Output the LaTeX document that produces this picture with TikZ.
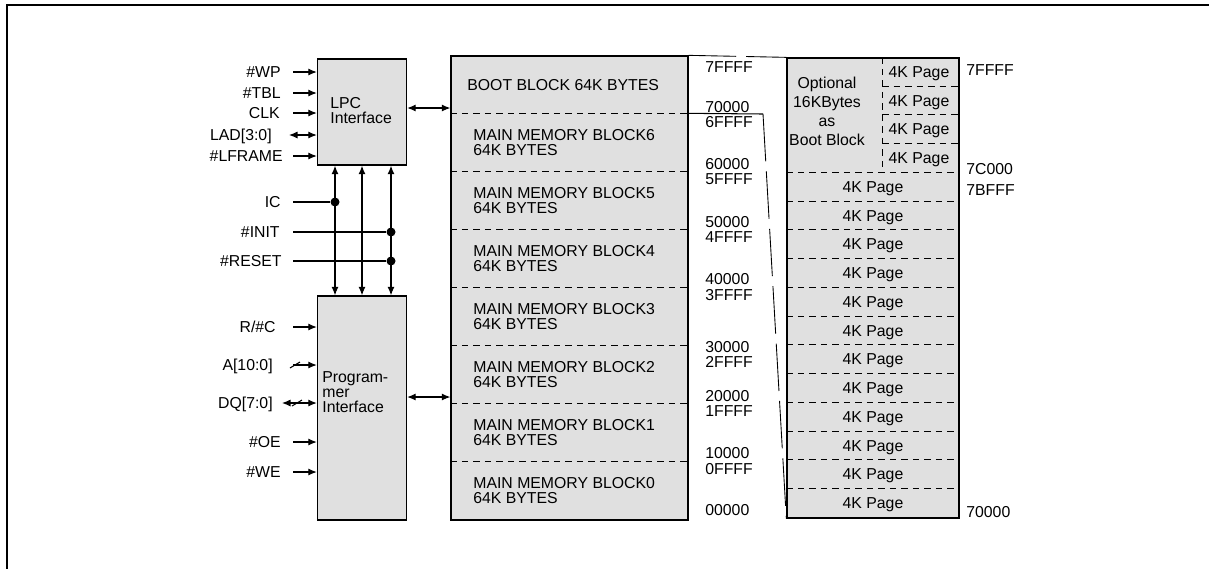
\documentclass[tikz,border=0pt]{standalone}
\usepackage{fontspec}
\setmainfont{Liberation Sans}
\usepackage{tikz}
\usetikzlibrary{arrows.meta,calc}
\definecolor{boxgray}{RGB}{224,224,224}
\tikzset{
  blk/.style={draw=black, fill=boxgray, line width=0.8pt, inner sep=0pt},
  txt/.style={font=\fontsize{9pt}{8.6pt}\selectfont, inner sep=0pt, align=left},
  sig/.style={font=\fontsize{9pt}{9pt}\selectfont, inner sep=0pt, text height=6.4pt, text depth=0pt},
  arrow/.style={-{Latex[length=1.7mm,width=1.4mm]}, line width=0.6pt},
  biarrow/.style={{Latex[length=1.7mm,width=1.4mm]}-{Latex[length=1.7mm,width=1.4mm]}, line width=0.6pt},
  wire/.style={line width=0.6pt},
  dot/.style={circle, fill=black, minimum size=1.8mm, inner sep=0pt},
  memsep/.style={dash pattern=on 0.13cm off 0.1cm, line width=0.5pt},
  linkline/.style={dash pattern=on 0.95cm off 0.2cm, line width=0.5pt}
}
\begin{document}
\begin{tikzpicture}[x=0.02cm, y=-0.02cm]
\useasboundingbox (0,0) rectangle (1209,569);
\draw[line width=1.1pt] (1209,5) -- (7,5) -- (7,569);
% ---- interface blocks ----
\node[blk, minimum width=1.78cm, minimum height=2.12cm] (lpc) at (362,112) {};
\node[txt, anchor=west] (lpctxt) at (330,110.5) {LPC\\Interface};
\node[blk, minimum width=1.78cm, minimum height=4.48cm] (prog) at (362,408) {};
\node[txt, anchor=west] (progtxt) at (322,392.5) {Program-\\mer\\Interface};
\coordinate (lin) at (293,0);
\coordinate (ladin) at (289,0);
\coordinate (dqin) at (282,0);
\coordinate (v1) at (335,0);
\coordinate (v2) at (362,0);
\coordinate (v3) at (391,0);
% ---- LPC signals ----
\node[sig, anchor=east] (wp) at (281,72) {\#WP};
\node[sig, anchor=east] (tbl) at (281,93) {\#TBL};
\node[sig, anchor=east] (clk) at (280,113) {CLK};
\node[sig, anchor=east] (lad) at (272,135) {LAD[3:0]};
\node[sig, anchor=east] (lframe) at (283,156) {\#LFRAME};
\draw[arrow] (wp -| lin) -- (wp -| lpc.west);
\draw[arrow] (tbl -| lin) -- (tbl -| lpc.west);
\draw[arrow] (clk -| lin) -- (clk -| lpc.west);
\draw[biarrow] (lad -| ladin) -- (lad -| lpc.west);
\draw[arrow] (lframe -| lin) -- (lframe -| lpc.west);
% ---- shared lines ----
\draw[biarrow] (v1 |- lpc.south) -- (v1 |- prog.north);
\draw[biarrow] (v2 |- lpc.south) -- (v2 |- prog.north);
\draw[biarrow] (v3 |- lpc.south) -- (v3 |- prog.north);
\node[sig, anchor=east] (ic) at (281,202) {IC};
\node[sig, anchor=east] (init) at (280,232) {\#INIT};
\node[sig, anchor=east] (reset) at (282,261) {\#RESET};
\node[dot] (icdot) at (v1 |- ic) {};
\node[dot] (initdot) at (v3 |- init) {};
\node[dot] (resetdot) at (v3 |- reset) {};
\draw[wire] (ic -| lin) -- (icdot);
\draw[wire] (init -| lin) -- (initdot);
\draw[wire] (reset -| lin) -- (resetdot);
% ---- programmer signals ----
\node[sig, anchor=east] (rc) at (276,327) {R/\#C};
\node[sig, anchor=east] (addr) at (273,365) {A[10:0]};
\node[sig, anchor=east] (dq) at (273,403) {DQ[7:0]};
\node[sig, anchor=east] (oe) at (281,442) {\#OE};
\node[sig, anchor=east] (we) at (281,472) {\#WE};
\draw[arrow] (rc -| lin) -- (rc -| prog.west);
\draw[arrow] (addr -| lin) -- (addr -| prog.west);
\draw[wire] ([xshift=0.04cm]addr -| lin) ++(-5,3) -- ++(10,-6);
\draw[biarrow] (dq -| dqin) -- (dq -| prog.west);
\draw[wire] ([xshift=0.08cm]dq -| lin) ++(-5,3) -- ++(10,-6);
\draw[arrow] (oe -| lin) -- (oe -| prog.west);
\draw[arrow] (we -| lin) -- (we -| prog.west);
% ---- memory array ----
\node[blk, minimum width=4.74cm, minimum height=9.28cm] (mem) at (569.5,288) {};
\foreach \k in {1,...,7}
  \draw[memsep] ([yshift=-\k*1.16cm]mem.north west) -- ([yshift=-\k*1.16cm]mem.north east);
\node[sig, anchor=west] (boot) at (467,85) {BOOT BLOCK 64K BYTES};
\node[txt, anchor=west] (blk6) at (473,142.5) {MAIN MEMORY BLOCK6\\64K BYTES};
\node[txt, anchor=west] (blk5) at (473,200.5) {MAIN MEMORY BLOCK5\\64K BYTES};
\node[txt, anchor=west] (blk4) at (473,258.5) {MAIN MEMORY BLOCK4\\64K BYTES};
\node[txt, anchor=west] (blk3) at (473,316.5) {MAIN MEMORY BLOCK3\\64K BYTES};
\node[txt, anchor=west] (blk2) at (473,374.5) {MAIN MEMORY BLOCK2\\64K BYTES};
\node[txt, anchor=west] (blk1) at (473,432.5) {MAIN MEMORY BLOCK1\\64K BYTES};
\node[txt, anchor=west] (blk0) at (473,490.5) {MAIN MEMORY BLOCK0\\64K BYTES};
\draw[biarrow] ([yshift=0.08cm]lpc.east) -- ([yshift=0.08cm]lpc.east -| mem.west);
\draw[biarrow] ([yshift=0.22cm]prog.east) -- ([yshift=0.22cm]prog.east -| mem.west);
% addresses
\node[sig, anchor=west] (a7f) at (705,67) {7FFFF};
\node[sig, anchor=west] (a70) at (705,107) {70000};
\node[sig, anchor=west] (a6f) at (705,122) {6FFFF};
\node[sig, anchor=west] (a60) at (705,164) {60000};
\node[sig, anchor=west] (a5f) at (705,179) {5FFFF};
\node[sig, anchor=west] (a50) at (705,222) {50000};
\node[sig, anchor=west] (a4f) at (705,237) {4FFFF};
\node[sig, anchor=west] (a40) at (705,279) {40000};
\node[sig, anchor=west] (a3f) at (705,295) {3FFFF};
\node[sig, anchor=west] (a30) at (705,347) {30000};
\node[sig, anchor=west] (a2f) at (705,362) {2FFFF};
\node[sig, anchor=west] (a20) at (705,396) {20000};
\node[sig, anchor=west] (a1f) at (705,411) {1FFFF};
\node[sig, anchor=west] (a10) at (705,453) {10000};
\node[sig, anchor=west] (a0f) at (705,469) {0FFFF};
\node[sig, anchor=west] (a00) at (705,510) {00000};
% ---- boot block pages ----
\node[blk, minimum width=3.44cm, minimum height=9.2cm] (pages) at (873,288) {};
\coordinate (split) at (882,0);
\coordinate (pgx) at (919,0);
\coordinate (bend) at (763,114);
\foreach \k in {1,2,3}
  \draw[memsep] ([yshift=-\k*0.575cm]pages.north -| split) -- ([yshift=-\k*0.575cm]pages.north east);
\foreach \k in {4,...,15}
  \draw[memsep] ([yshift=-\k*0.575cm]pages.north west) -- ([yshift=-\k*0.575cm]pages.north east);
\draw[memsep] (pages.north -| split) -- ([yshift=-4*0.575cm]pages.north -| split);
\foreach \k in {0,...,3}
  \node[sig] (pg\k) at ([yshift=-(\k+0.5)*0.575cm]pages.north -| pgx) {4K Page};
\foreach \k in {4,...,15}
  \node[sig] (pg\k) at ([yshift=-(\k+0.5)*0.575cm]pages.north) {4K Page};
\node[font=\fontsize{9pt}{10.8pt}\selectfont, align=center, inner sep=0pt] (opt) at (827,111.5) {Optional\\16KBytes\\as\\Boot Block};
\node[sig, anchor=west] (b7f) at (966,70) {7FFFF};
\node[sig, anchor=west] (b7c) at (966,168.5) {7C000};
\node[sig, anchor=west] (b7b) at (966,189.5) {7BFFF};
\node[sig, anchor=west] (b70) at (966,512) {70000};
% ---- zoom links ----
\draw[linkline] (mem.north east) -- (pages.north west);
\draw[wire] ([yshift=-1.16cm]mem.north east) -- (bend);
\draw[linkline] (bend) -- (pages.south west);
\end{tikzpicture}
\end{document}
